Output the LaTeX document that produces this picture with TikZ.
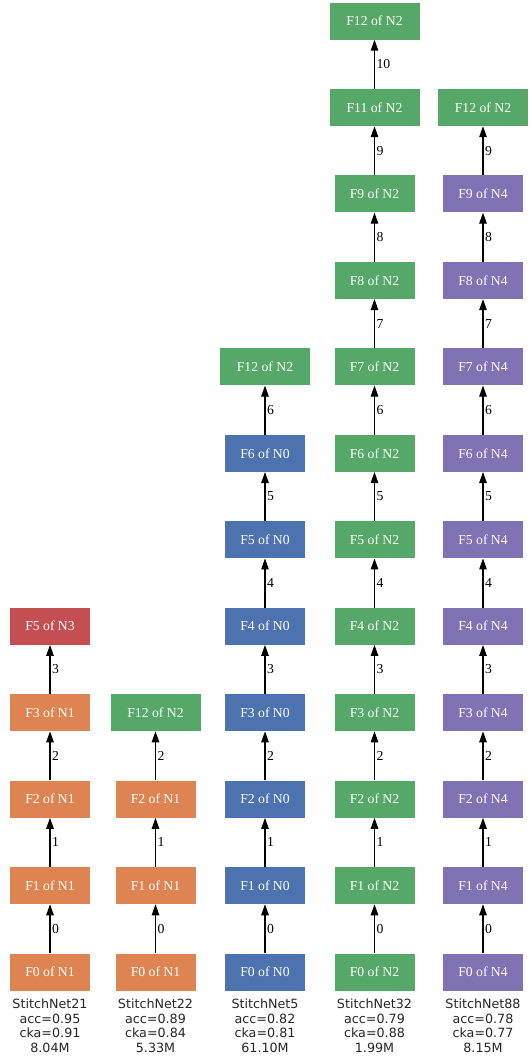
\documentclass[tikz,border=0pt]{standalone}
\usepackage{fontspec}
\setmainfont{Liberation Serif}
\newfontfamily\capfont{DejaVu Sans}
\usetikzlibrary{arrows.meta}
\definecolor{cblue}{HTML}{4C72B0}
\definecolor{corange}{HTML}{DD8452}
\definecolor{cgreen}{HTML}{55A868}
\definecolor{cred}{HTML}{C44E52}
\definecolor{cpurple}{HTML}{8172B3}
\tikzset{
  fbox/.style={fill=#1, text=white, minimum width=80pt, minimum height=37pt, inner sep=0pt, font=\fontsize{13.7}{14}\selectfont},
  wbox/.style={fbox=#1, minimum width=90pt},
  link/.style={draw=black, line width=1.1pt, -{Triangle[length=11pt,width=7.5pt]}},
  elabel/.style={right, inner sep=1.5pt, font=\fontsize{13.7}{14}\selectfont},
  capt/.style={font=\capfont\fontsize{12.7}{14.5}\selectfont, align=center, text=black!85, inner sep=0pt}
}
\begin{document}
\begin{tikzpicture}[x=1pt, y=-1pt]
\useasboundingbox (0,0) rectangle (532,1057);
% column 1
\foreach \k in {0,...,3} \node[fbox=corange] (a\k) at (50,{972-86.45*\k}) {F\k{} of N1};
\node[fbox=cred] (a4) at (50,{972-86.45*4}) {F5 of N3};
\foreach \k [evaluate=\k as \n using int(\k+1)] in {0,...,3} \draw[link] (a\k) -- node[elabel]{\k} (a\n);
\node[capt] (capa) at (50,1026) {StitchNet21\\acc=0.95\\cka=0.91\\8.04M};
% column 2
\foreach \k in {0,...,2} \node[fbox=corange] (b\k) at (155.5,{972-86.45*\k}) {F\k{} of N1};
\node[wbox=cgreen] (b3) at (155.5,{972-86.45*3}) {F12 of N2};
\foreach \k [evaluate=\k as \n using int(\k+1)] in {0,...,2} \draw[link] (b\k) -- node[elabel]{\k} (b\n);
\node[capt] (capb) at (155.5,1026) {StitchNet22\\acc=0.89\\cka=0.84\\5.33M};
% column 3
\foreach \k in {0,...,6} \node[fbox=cblue] (c\k) at (265,{972-86.45*\k}) {F\k{} of N0};
\node[wbox=cgreen] (c7) at (265,{972-86.45*7}) {F12 of N2};
\foreach \k [evaluate=\k as \n using int(\k+1)] in {0,...,6} \draw[link] (c\k) -- node[elabel]{\k} (c\n);
\node[capt] (capc) at (265,1026) {StitchNet5\\acc=0.82\\cka=0.81\\61.10M};
% column 4
\foreach \k in {0,...,9} \node[fbox=cgreen] (d\k) at (374.5,{972-86.45*\k}) {F\k{} of N2};
\node[wbox=cgreen] (d10) at (374.5,{972-86.45*10}) {F11 of N2};
\node[wbox=cgreen] (d11) at (374.5,{972-86.45*11}) {F12 of N2};
\foreach \k [evaluate=\k as \n using int(\k+1)] in {0,...,10} \draw[link] (d\k) -- node[elabel]{\k} (d\n);
\node[capt] (capd) at (374.5,1026) {StitchNet32\\acc=0.79\\cka=0.88\\1.99M};
% column 5
\foreach \k in {0,...,9} \node[fbox=cpurple] (e\k) at (483,{972-86.45*\k}) {F\k{} of N4};
\node[wbox=cgreen] (e10) at (483,{972-86.45*10}) {F12 of N2};
\foreach \k [evaluate=\k as \n using int(\k+1)] in {0,...,9} \draw[link] (e\k) -- node[elabel]{\k} (e\n);
\node[capt] (cape) at (483,1026) {StitchNet88\\acc=0.78\\cka=0.77\\8.15M};
\end{tikzpicture}
\end{document}
